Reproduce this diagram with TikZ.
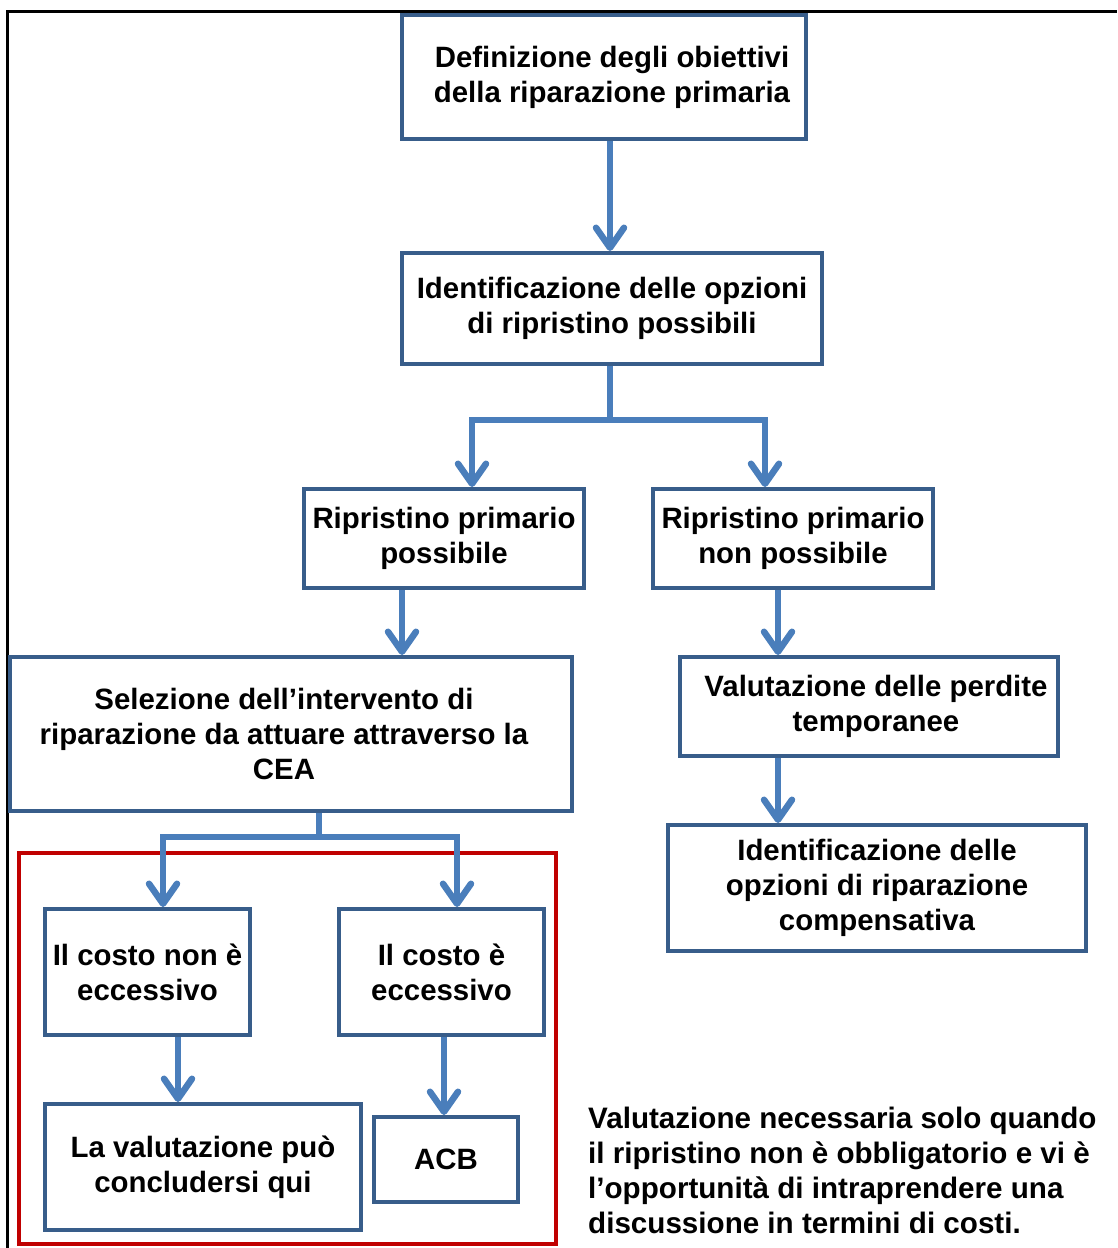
\documentclass[tikz,border=0pt]{standalone}
\usepackage{fontspec}
\setmainfont{Liberation Sans}
\usetikzlibrary{arrows.meta,calc}
\definecolor{boxblue}{HTML}{385D8A}
\definecolor{arrowblue}{HTML}{4A7EBB}
\definecolor{redframe}{HTML}{C00000}
\begin{document}
\begin{tikzpicture}[x=1pt,y=-1pt,
  box/.style={draw=boxblue, line width=4pt, rectangle, inner sep=0pt, align=center,
    font=\bfseries\fontsize{29.4}{35}\selectfont, text=black},
  arr/.style={draw=arrowblue, line width=6.5pt,
    -{Straight Barb[length=20pt, width=28pt, round]}},
]
\useasboundingbox (0,0) rectangle (1117,1248);
% outer frame (top and left only)
\draw[black, line width=3pt] (7,1248) -- (7,11) -- (1117,11);
% red frame
\node[draw=redframe, line width=4.5pt, rectangle, minimum width=537pt, minimum height=391pt, inner sep=0pt] (red) at (287.5,1048.5) {};

\node[box, minimum width=404pt, minimum height=124pt] (b1) at (604,77) {\hspace*{16pt}Definizione degli obiettivi\\\hspace*{16pt}della riparazione primaria};
\node[box, minimum width=420pt, minimum height=111pt] (b2) at (612,308.5) {\raisebox{-5pt}{Identificazione delle opzioni}\\\raisebox{-5pt}{di ripristino  possibili}};
\node[box, minimum width=280pt, minimum height=99pt] (b3) at (444,538.5) {Ripristino primario\\possibile};
\node[box, minimum width=280pt, minimum height=99pt] (b4) at (793,538.5) {Ripristino primario\\non possibile};
\node[box, minimum width=562pt, minimum height=154pt] (b5) at (291,734) {Selezione dell’intervento  di\hspace*{14pt}\mbox{}\\riparazione da attuare attraverso la\hspace*{14pt}\mbox{}\\CEA\hspace*{14pt}\mbox{}};
\node[box, minimum width=378pt, minimum height=99pt] (b6) at (869,706.5) {\hspace*{14pt}Valutazione delle perdite\\\hspace*{14pt}temporanee};
\node[box, minimum width=418pt, minimum height=126pt] (b7) at (877,888) {Identificazione delle\\opzioni di riparazione\\compensativa};
\node[box, minimum width=205pt, minimum height=126pt] (b9) at (147.5,972) {Il costo non è\\eccessivo};
\node[box, minimum width=205pt, minimum height=126pt] (b10) at (441.5,972) {Il costo è\\eccessivo};
\node[box, minimum width=316pt, minimum height=126pt] (b11) at (203,1167) {La valutazione può\\concludersi qui};
\node[box, minimum width=144pt, minimum height=85pt] (b12) at (446,1159.5) {ACB};

\node[anchor=north west, inner sep=0pt, align=left, font=\bfseries\fontsize{29.6}{35}\selectfont] (note) at (588,1107)
  {Valutazione necessaria solo quando\\il ripristino  non è obbligatorio e vi è\\l’opportunità di intraprendere una\\discussione in termini  di costi.};

% connectors
\draw[arr] (b1.south -| 610,0) -- (b2.north -| 610,0);
\draw[arr, line join=miter] (b2.south -| 610,0) -- (610,420) -| (b3.north -| 472,0);
\draw[arr, line join=miter] (610,420) -| (b4.north -| 765,0);
\draw[arr] (b3.south -| 402,0) -- (b5.north -| 402,0);
\draw[arr] (b4.south -| 778,0) -- (b6.north -| 778,0);
\draw[arr] (b6.south -| 778,0) -- (b7.north -| 778,0);
\draw[arr, line join=miter] (b5.south -| 319,0) -- (319,837) -| (b9.north -| 163,0);
\draw[arr, line join=miter] (319,837) -| (b10.north -| 457,0);
\draw[arr] (b9.south -| 178,0) -- (b11.north -| 178,0);
\draw[arr] (b10.south -| 444,0) -- (b12.north -| 444,0);
\end{tikzpicture}
\end{document}
